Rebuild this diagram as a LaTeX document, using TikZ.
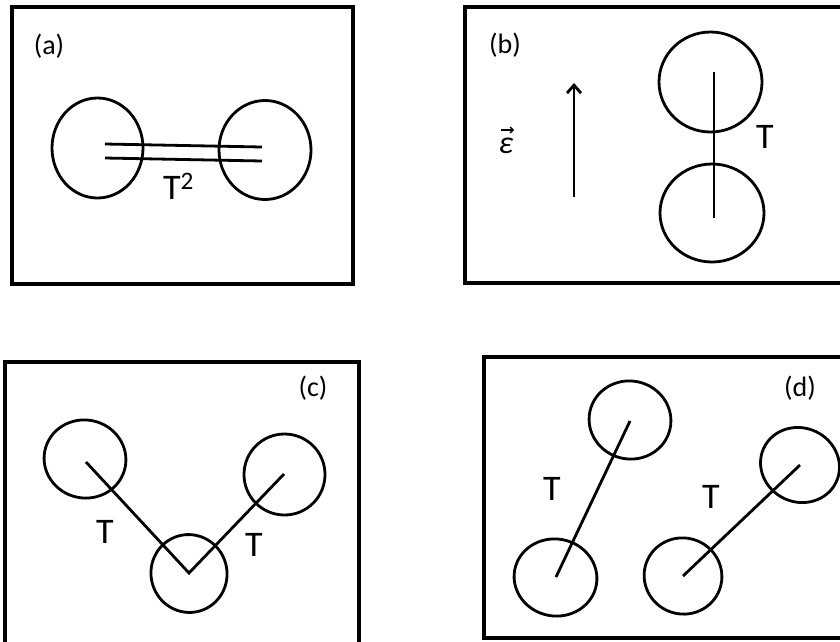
\documentclass[tikz,border=0pt]{standalone}
\usepackage{fontspec}
\setmainfont{Carlito}
\usetikzlibrary{shapes.geometric,arrows.meta}
\begin{document}
\begin{tikzpicture}[x=1pt,y=-1pt,
 frame/.style={line width=3.3pt},
 blob/.style={draw,ellipse,line width=2.8pt,inner sep=0pt},
 bond/.style={line width=2.8pt},
 lbl/.style={font=\fontsize{28}{34}\selectfont,inner sep=0pt},
 tl/.style={font=\fontsize{36}{42}\selectfont,inner sep=0pt,anchor=base west}]
\useasboundingbox (0,0) rectangle (840,641);
\clip (0,0) rectangle (840,641);
% frames
\draw[frame] (12,7) rectangle (353,284);
\draw[frame] (465,7) rectangle (850,283);
\draw[frame] (5,362) rectangle (359,660);
\draw[frame] (484,357) rectangle (850,638);
% panel labels
\node[lbl] (la) at (49,46) {(a)};
\node[lbl] (lb) at (505,45) {(b)};
\node[lbl] (lc) at (313,388) {(c)};
\node[lbl] (ld) at (800,388) {(d)};
% (a)
\node[blob,minimum width=91pt,minimum height=100pt] (a1) at (97.5,148) {};
\node[blob,minimum width=92pt,minimum height=99pt] (a2) at (265,150) {};
\coordinate (a1u) at (105,144); \coordinate (a2u) at (262,147);
\coordinate (a1d) at (105,158); \coordinate (a2d) at (262,161);
\draw[bond] (a1u) -- (a2u);
\draw[bond] (a1d) -- (a2d);
\node[tl] (ta) at (163,199) {T\textsuperscript{2}};
% (b)
\node[inner sep=0pt,font=\fontsize{32}{36}\selectfont\itshape] (eps) at (506,146) {ε};
\coordinate (epsL) at (501,130); \coordinate (epsR) at (514,130);
\draw[line width=1.3pt,-{Straight Barb[length=3pt,width=6pt,line width=1.3pt]}] (epsL) -- (epsR);
\coordinate (arB) at (574,197); \coordinate (arT) at (574,83);
\draw[bond,-{Straight Barb[length=8pt,width=14pt,line width=2.8pt]}] (arB) -- (arT);
\node[blob,minimum width=103pt,minimum height=100pt] (b1) at (710.5,82) {};
\node[blob,minimum width=104pt,minimum height=98pt] (b2) at (712,213) {};
\coordinate (b1c) at (714,72); \coordinate (b2c) at (714,218);
\draw[bond] (b1c) -- (b2c);
\node[tl] (tb) at (756,148) {T};
% (c)
\node[blob,minimum width=82pt,minimum height=78pt,rotate=-12] (c1) at (85,459) {};
\node[blob,minimum width=76pt,minimum height=78pt,rotate=15] (c2) at (189,573.5) {};
\node[blob,minimum width=81pt,minimum height=81pt] (c3) at (284.5,474.5) {};
\coordinate (c1c) at (86,462); \coordinate (c2c) at (189,573); \coordinate (c3c) at (284,474);
\draw[bond] (c1c) -- (c2c) -- (c3c);
\node[tl] (tc1) at (96,543) {T};
\node[tl] (tc2) at (245,556) {T};
% (d)
\node[blob,minimum width=82pt,minimum height=78pt,rotate=-12] (d1) at (630,420) {};
\node[blob,minimum width=83pt,minimum height=77pt,rotate=-10] (d2) at (555.5,577.5) {};
\coordinate (d1c) at (630,421); \coordinate (d2c) at (556,577);
\draw[bond] (d1c) -- (d2c);
\node[tl] (td1) at (543,500) {T};
\node[blob,minimum width=80pt,minimum height=74pt,rotate=-25] (d3) at (800,465) {};
\node[blob,minimum width=78pt,minimum height=76pt,rotate=-20] (d4) at (683,576) {};
\coordinate (d3c) at (800,465); \coordinate (d4c) at (683,576);
\draw[bond] (d3c) -- (d4c);
\node[tl] (td2) at (702,508) {T};
\end{tikzpicture}
\end{document}
